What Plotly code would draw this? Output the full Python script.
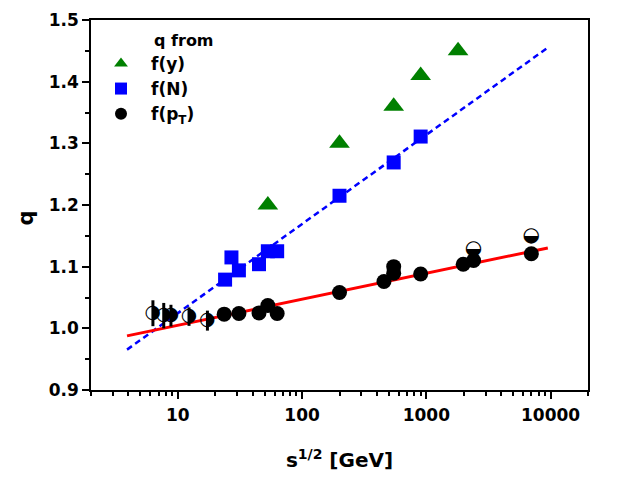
import plotly.graph_objects as go

# ---- data ----
# q from f(y): green triangles
fy_s = [53, 200, 546, 900, 1800]
fy_q = [1.20, 1.30, 1.36, 1.41, 1.45]

# q from f(N): blue squares
fn_s = [24, 27, 31, 45, 53, 63, 200, 546, 900]
fn_q = [1.079, 1.115, 1.094, 1.104, 1.125, 1.125, 1.215, 1.269, 1.311]

# q from f(pT): filled black circles
fpt_s = [23.6, 31, 45, 53, 63, 200, 456, 546, 546, 900, 1980, 2400, 7000]
fpt_q = [1.023, 1.024, 1.025, 1.037, 1.024, 1.058, 1.076, 1.100, 1.0895, 1.088, 1.104, 1.110, 1.121]

# q from f(pT): low-energy half-filled points with error bars
low_s = [6.3, 7.7, 8.8, 12.3, 17.3]
low_q = [1.0245, 1.0206, 1.0206, 1.019, 1.0125]
low_err = [0.021, 0.0206, 0.0176, 0.015, 0.0162]

# q from f(pT): high-energy half-filled points
half_s = [2400, 7000]
half_q = [1.1285, 1.149]

# fit lines (end points)
fitN_s = [3.9, 9500]
fitN_q = [0.9655, 1.4552]
fitpt_s = [3.9, 9500]
fitpt_q = [0.9878, 1.1304]

x_tickvals = [10, 100, 1000, 10000]
x_ticktext = ["10", "100", "1000", "10000"]
y_tickvals = [0.9, 1.0, 1.1, 1.2, 1.3, 1.4, 1.5]
y_ticktext = ["0.9", "1.0", "1.1", "1.2", "1.3", "1.4", "1.5"]
minor_mult = [2, 3, 4, 5, 6, 7, 8, 9]
decades = [1, 10, 100, 1000]

FONT = "DejaVu Sans"

fig = go.Figure()

fig.add_trace(go.Scatter(x=fitN_s, y=fitN_q, mode="lines",
                         line=dict(color="#0000FF", width=2.5, dash="6px,4px"),
                         showlegend=False, hoverinfo="skip"))
fig.add_trace(go.Scatter(x=fitpt_s, y=fitpt_q, mode="lines",
                         line=dict(color="#FF0000", width=3),
                         showlegend=False, hoverinfo="skip"))

fig.add_trace(go.Scatter(x=fy_s, y=fy_q, mode="markers", name="f(y)",
                         marker=dict(symbol="triangle-up", size=18, color="#008000",
                                     line=dict(width=0))))
fig.add_trace(go.Scatter(x=fn_s, y=fn_q, mode="markers", name="f(N)",
                         marker=dict(symbol="square", size=14, color="#0000FF",
                                     line=dict(width=0))))
fig.add_trace(go.Scatter(x=fpt_s, y=fpt_q, mode="markers", name="f(p<sub>T</sub>)",
                         marker=dict(symbol="circle", size=15, color="black",
                                     line=dict(width=0))))

# low-energy points: error bars + half-filled glyph
fig.add_trace(go.Scatter(x=low_s, y=low_q, mode="markers",
                         marker=dict(size=1, color="rgba(0,0,0,0)"),
                         error_y=dict(type="data", array=low_err, visible=True,
                                      color="black", thickness=3, width=0),
                         showlegend=False, hoverinfo="skip"))
fig.add_trace(go.Scatter(x=low_s, y=low_q, mode="text", text=["\u25D1"] * len(low_s),
                         textfont=dict(family=FONT, size=19, color="black"),
                         textposition="middle center", showlegend=False))
fig.add_trace(go.Scatter(x=half_s, y=half_q, mode="text", text=["\u25D2"] * len(half_s),
                         textfont=dict(family=FONT, size=20, color="black"),
                         textposition="middle center", showlegend=False))

fig.add_annotation(text="<b>q from</b>", xref="paper", yref="paper",
                   x=0.122, y=0.9453, xanchor="left", yanchor="middle",
                   showarrow=False, font=dict(family=FONT, size=16, color="black"))
fig.add_annotation(text="<b>q</b>", xref="paper", yref="paper",
                   x=-0.131, y=0.466, xanchor="center", yanchor="middle",
                   textangle=-90, showarrow=False,
                   font=dict(family=FONT, size=21, color="black"))

fig.update_layout(
    width=618, height=487,
    margin=dict(l=83, r=38, t=12, b=105, autoexpand=False),
    paper_bgcolor="white", plot_bgcolor="white",
    font=dict(family=FONT, size=16, color="black", weight="bold"),
    showlegend=True,
    legend=dict(x=0.0, y=0.93, xanchor="left", yanchor="top",
                bgcolor="rgba(0,0,0,0)", itemsizing="constant", itemwidth=50,
                font=dict(family=FONT, size=17, color="black", weight="bold")),
    xaxis=dict(type="log", range=[0.30103, 4.30103],
               tickvals=x_tickvals, ticktext=x_ticktext,
               ticks="outside", ticklen=7, tickwidth=1.5, tickcolor="black",
               ticklabelstandoff=2,
               minor=dict(tickvals=[m * d for d in decades for m in minor_mult] + [20000],
                          ticks="outside", ticklen=4, tickwidth=1.5, tickcolor="black"),
               showline=True, linecolor="black", linewidth=1.5, mirror=True,
               showgrid=False, zeroline=False, automargin=False,
               tickfont=dict(family=FONT, size=17, color="black", weight="bold"),
               title=dict(text="s<sup>1/2</sup> [GeV]", standoff=29,
                          font=dict(family=FONT, size=20, color="black", weight="bold"))),
    yaxis=dict(range=[0.9, 1.5],
               tickvals=y_tickvals, ticktext=y_ticktext,
               ticks="outside", ticklen=7, tickwidth=1.5, tickcolor="black",
               minor=dict(dtick=0.05, ticks="outside", ticklen=4, tickwidth=1.5, tickcolor="black"),
               showline=True, linecolor="black", linewidth=1.5, mirror=True,
               showgrid=False, zeroline=False, automargin=False,
               tickfont=dict(family=FONT, size=17, color="black", weight="bold")),
)

fig.write_html("out.html")
